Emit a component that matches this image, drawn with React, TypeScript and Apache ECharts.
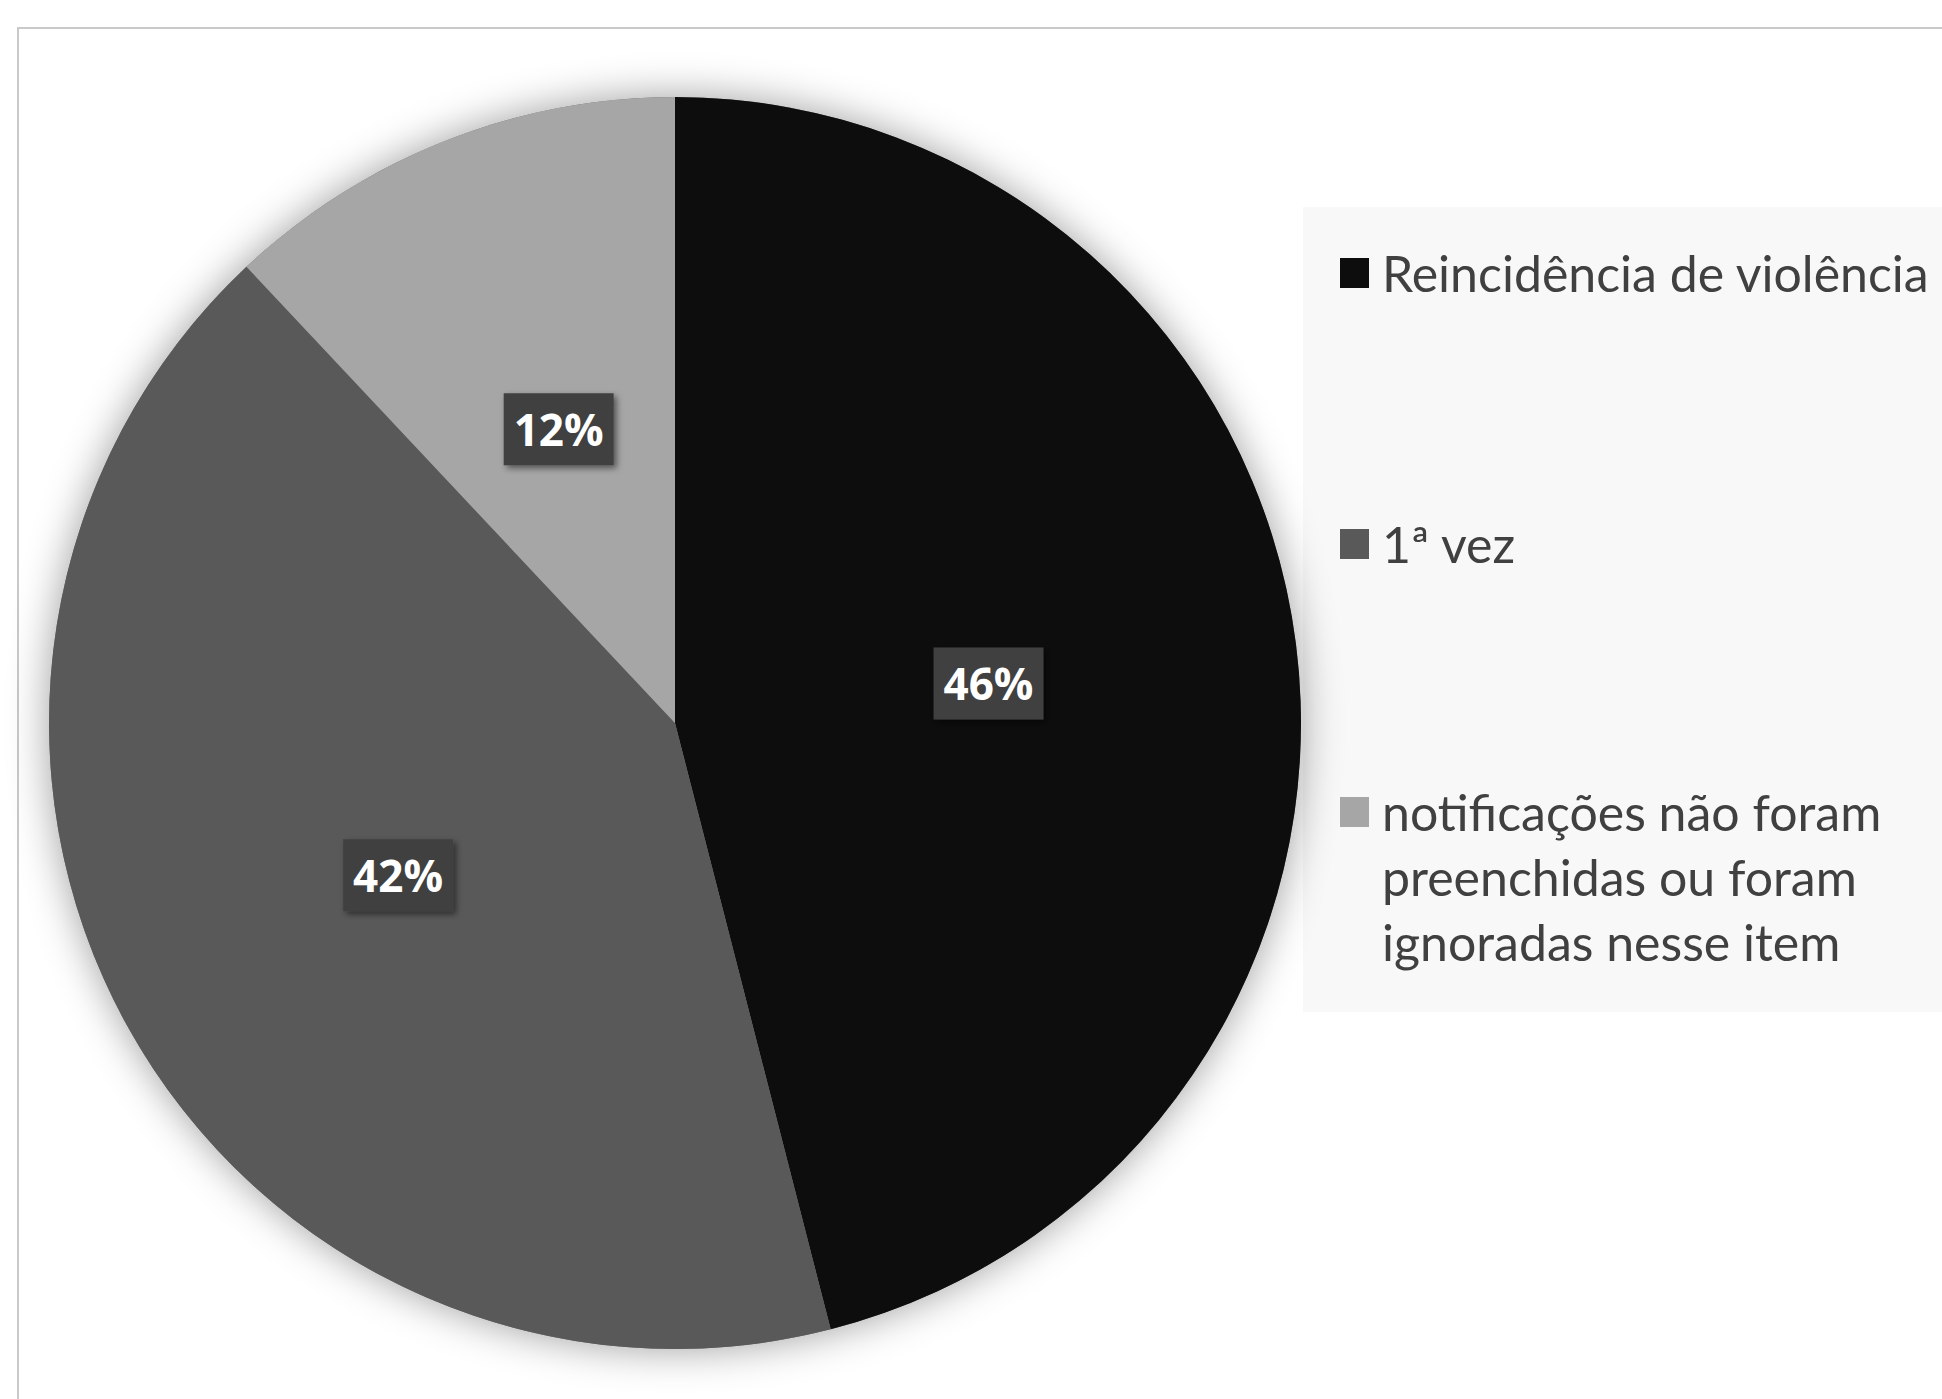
import React, { useEffect, useRef } from "react";
import * as echarts from "echarts";

const categories = [
  "Reincidência de violência",
  "1ª vez",
  "notificações não foram preenchidas ou foram ignoradas nesse item",
];
// first text line sits beside the marker (two blank lines keep the block centred on line 1)
const legendLabels = [
  "Reincidência de violência",
  "1ª vez",
  "\n\nnotificações não foram\npreenchidas ou foram\nignoradas nesse item",
];
const values = [46, 42, 12];
const colors = ["#0d0d0d", "#595959", "#a6a6a6"];

const LEGEND_FONT = "Lato, 'Open Sans', sans-serif";
const LINE_H = 65;
// square marker on the left, invisible point on the right to widen the gap to the text
const MARKER_ICON = "path://M0,0h29v30h-29z M36.95,15L37,15";

export default function App() {
  const ref = useRef<HTMLDivElement>(null);
  useEffect(() => {
    if (!ref.current) return;
    const chart = echarts.init(ref.current, undefined, { renderer: "svg" });
    const legendBase = (idx: number, centerY: number, lines: number) => ({
      show: true,
      orient: "vertical",
      left: 1340,
      top: centerY - (lines * LINE_H) / 2,
      padding: 0,
      itemWidth: 37,
      itemHeight: 30,
      icon: MARKER_ICON,
      selectedMode: false,
      data: [categories[idx]],
      formatter: (name: string) => legendLabels[categories.indexOf(name)],
      textStyle: {
        color: "#404040",
        fontSize: 50,
        fontFamily: LEGEND_FONT,
        lineHeight: LINE_H,
      },
    });
    chart.setOption({
      animation: false,
      backgroundColor: "#ffffff",
      graphic: [
        {
          type: "rect",
          z: -10,
          silent: true,
          shape: { x: 18, y: 28, width: 2000, height: 2000 },
          style: { fill: "#ffffff", stroke: "#c9c9c9", lineWidth: 2 },
        },
        {
          type: "rect",
          z: -5,
          silent: true,
          shape: { x: 1303, y: 207, width: 700, height: 805 },
          style: { fill: "#f8f8f8" },
        },
      ],
      legend: [
        legendBase(0, 273, 1),
        legendBase(1, 544, 1),
        legendBase(2, 812, 5),
      ],
      series: [
        {
          type: "pie",
          name: "shadow",
          silent: true,
          center: [675, 723],
          radius: 626,
          z: 1,
          label: { show: false },
          labelLine: { show: false },
          emphasis: { disabled: true },
          data: [
            {
              value: 1,
              name: "__shadow",
              itemStyle: {
                color: "#808080",
                shadowBlur: 40,
                shadowColor: "rgba(0,0,0,0.38)",
              },
            },
          ],
        },
        {
          type: "pie",
          name: "Casos",
          center: [675, 723],
          radius: 626,
          startAngle: 90,
          clockwise: true,
          z: 2,
          emphasis: { disabled: true },
          labelLine: { show: false },
          label: {
            show: true,
            position: "inside",
            formatter: (p: any) => `${p.value}%`,
            color: "#ffffff",
            fontSize: 44,
            fontWeight: "bold",
            fontFamily: "'Open Sans', sans-serif",
            backgroundColor: "#404040",
            padding: [14, 10, 14, 10],
            shadowBlur: 6,
            shadowOffsetX: 3,
            shadowOffsetY: 3,
            shadowColor: "rgba(0,0,0,0.5)",
          },
          data: categories.map((c, i) => ({
            name: c,
            value: values[i],
            itemStyle: { color: colors[i] },
          })),
        },
      ],
    });
    return () => chart.dispose();
  }, []);
  return (
    <div
      ref={ref}
      style={{ position: "absolute", left: 0, top: 0, width: 1942, height: 1399 }}
    />
  );
}
